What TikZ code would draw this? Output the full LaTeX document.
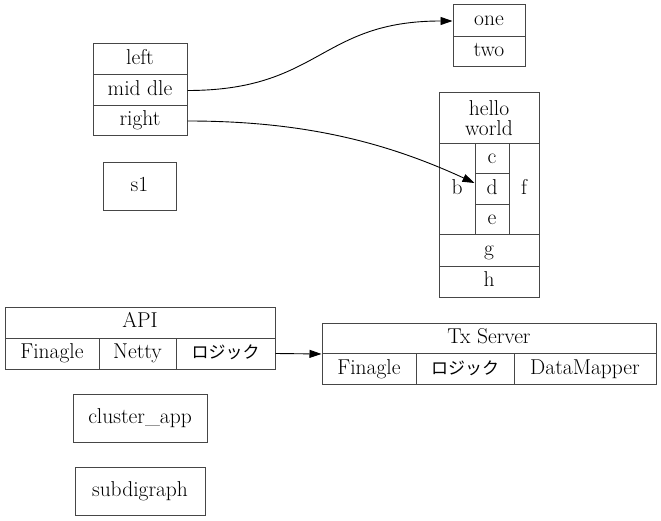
\documentclass[tikz,border=0pt]{standalone}
\usepackage{fontspec}
\newfontfamily\jpfont{Noto Sans CJK JP}
\usetikzlibrary{arrows.meta}
\definecolor{brd}{RGB}{70,70,70}
\begin{document}
\begin{tikzpicture}[x=1pt,y=-1pt,
  fld/.style={draw=brd, line width=1pt, rectangle, inner sep=0pt,
    text height=14pt, text depth=4pt, font=\fontsize{21.5}{20}\selectfont},
  jp/.style={font=\jpfont\fontsize{17}{20}\selectfont},
  edge/.style={draw=black, line width=0.9pt, -{Triangle[length=12pt,width=8pt]}}]
\useasboundingbox (0,0) rectangle (661,521);
% left record
\node[fld, minimum width=94pt, minimum height=31pt] (left) at (140,59.5) {left};
\node[fld, minimum width=94pt, minimum height=31pt] (mid) at (140,90.5) {mid dle};
\node[fld, minimum width=94pt, minimum height=30pt] (right) at (140,121) {right};
% s1
\node[fld, minimum width=73pt, minimum height=48pt] (s1) at (139.5,187) {s1};
% one/two
\node[fld, minimum width=72pt, minimum height=32pt] (one) at (489,21) {one};
\node[fld, minimum width=72pt, minimum height=30pt] (two) at (489,52) {two};
% hello world record
\node[fld, minimum width=100pt, minimum height=51pt, align=center, text height=, text depth=] (hw) at (489,118.5) {hello\\world};
\node[fld, minimum width=36pt, minimum height=91pt] (b) at (457,189.5) {b};
\node[fld, minimum width=34pt, minimum height=30pt] (c) at (492,159) {c};
\node[fld, minimum width=34pt, minimum height=31pt] (d) at (492,189.5) {d};
\node[fld, minimum width=34pt, minimum height=30pt] (e) at (492,220) {e};
\node[fld, minimum width=30pt, minimum height=91pt] (f) at (524,189.5) {f};
\node[fld, minimum width=100pt, minimum height=32pt] (g) at (489,251) {g};
\node[fld, minimum width=100pt, minimum height=30pt] (h) at (489,282) {h};
% API record
\node[fld, minimum width=270pt, minimum height=31pt] (api) at (140,322.5) {API};
\node[fld, minimum width=94pt, minimum height=31pt] (afin) at (52,353.5) {Finagle};
\node[fld, minimum width=77pt, minimum height=31pt] (anet) at (137.5,353.5) {Netty};
\node[fld, jp, minimum width=99pt, minimum height=31pt] (alogic) at (225.5,353.5) {ロジック};
% Tx Server record
\node[fld, minimum width=334pt, minimum height=30.5pt] (tx) at (489,338.25) {Tx Server};
\node[fld, minimum width=94pt, minimum height=31pt] (tfin) at (369,369) {Finagle};
\node[fld, jp, minimum width=98pt, minimum height=31pt] (tlogic) at (465,369) {ロジック};
\node[fld, minimum width=142pt, minimum height=31pt] (tdm) at (585,369) {DataMapper};
% plain boxes
\node[fld, minimum width=134pt, minimum height=48pt] (capp) at (140,418) {cluster\_app};
\node[fld, minimum width=130pt, minimum height=48pt] (sub) at (140,491) {subdigraph};
% edges
\draw[edge] (mid.east) .. controls +(133,0) and +(-133,0) .. (one.west);
\draw[edge] (right.east) .. controls +(113,0) and +(-91,-42) .. ([yshift=6.5pt]d.west);
\draw[edge] (alogic.east) -- (tx.south west);
\end{tikzpicture}
\end{document}
